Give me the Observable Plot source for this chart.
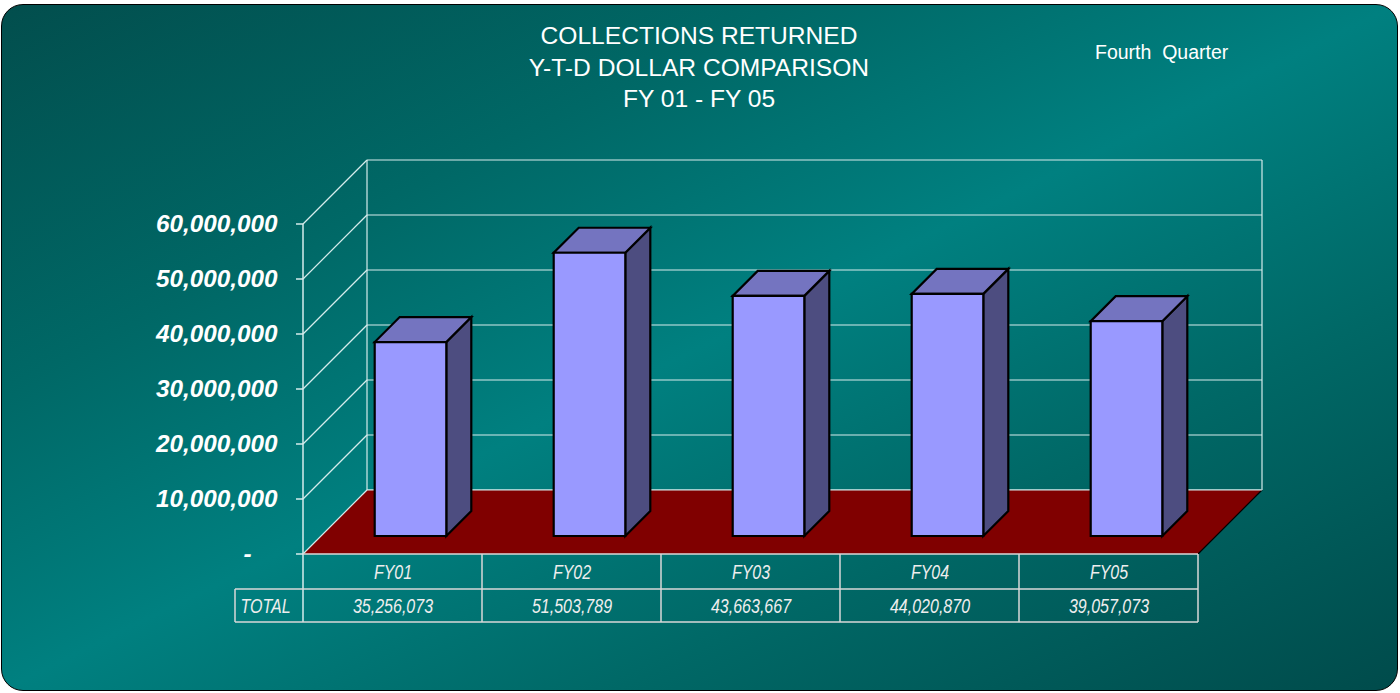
<!DOCTYPE html>
<html><head><meta charset="utf-8">
<script src="https://cdn.jsdelivr.net/npm/d3@7"></script>
<script src="https://cdn.jsdelivr.net/npm/@observablehq/plot@0.6"></script>
<style>
html,body{margin:0;padding:0;background:#fff;}
#wrap{position:relative;width:1400px;height:693px;overflow:hidden;}
#bg{position:absolute;left:1px;top:4px;width:1395px;height:685px;border:1.5px solid #000;border-radius:22px;
  background:linear-gradient(to bottom right,#024e4d 0%,#006866 28%,#008080 50%,#006866 72%,#004b4b 100%);}
.t{position:absolute;color:#fff;font-family:"Liberation Sans",Arial,sans-serif;}
#title{left:0;width:1398px;top:20px;text-align:center;font-size:24.6px;line-height:31.5px;}
#sub{left:1095px;top:41px;font-size:19.5px;white-space:pre;}
#chart{position:absolute;left:0;top:0;}
</style></head>
<body>
<div id="wrap">
  <div id="bg"></div>
  <div id="title" class="t">COLLECTIONS RETURNED<br>Y-T-D DOLLAR COMPARISON<br>FY 01 - FY 05</div>
  <div id="sub" class="t">Fourth  Quarter</div>
  <div id="chart"></div>
</div>
<script>
// ---- data ----
const categories = ["FY01", "FY02", "FY03", "FY04", "FY05"];
const totals = [35256073, 51503789, 43663667, 44020870, 39057073];
const yTicks = [0, 10000000, 20000000, 30000000, 40000000, 50000000, 60000000];
const rowLabel = "TOTAL";

const data = categories.map((cat, i) => ({cat, value: totals[i]}));
const fmt = d3.format(",");

// ---- 3D styling ----
const DEPTH = 64;          // depth of the floor (px)
const BAR_D1 = 18, BAR_D2 = 43; // bar front/back depth (px)
const ROW1 = 35, ROW2 = 68, LABEL_W = 68;
const gridColor = "#d6ecec";
const tableColor = "#d8d8d8";
const tableTextColor = "#eeeeee";

function scene(index, scales, values, dims, context) {
  const x = scales.x, y = scales.y, bw = x.bandwidth();
  const x0 = x(categories[0]), x1 = x(categories[categories.length - 1]) + bw;
  const y0 = y(0), yTop = y(d3.max(yTicks));
  const P = (px, py, d) => [px + d, py - d];
  const g = d3.create("svg:g");
  const line = (a, b, stroke, sw) => g.append("line")
    .attr("x1", a[0]).attr("y1", a[1]).attr("x2", b[0]).attr("y2", b[1])
    .attr("stroke", stroke).attr("stroke-width", sw);
  const poly = (pts, fill, stroke, sw) => g.append("polygon")
    .attr("points", pts.map(p => p.join(",")).join(" "))
    .attr("fill", fill).attr("stroke", stroke).attr("stroke-width", sw)
    .attr("stroke-linejoin", "miter");

  // back wall grid + edges
  for (const t of yTicks) line(P(x0, y(t), DEPTH), P(x1, y(t), DEPTH), gridColor, 1.2);
  line(P(x0, y0, DEPTH), P(x0, yTop, DEPTH), gridColor, 1.2);
  line(P(x1, y0, DEPTH), P(x1, yTop, DEPTH), gridColor, 1.2);
  // floor
  poly([P(x0, y0, 0), P(x1, y0, 0), P(x1, y0, DEPTH), P(x0, y0, DEPTH)], "#800000", "none", 0);
  line(P(x1, y0, 0), P(x1, y0, DEPTH), "#000", 1.2);
  line(P(x0, y0, DEPTH), P(x1, y0, DEPTH), gridColor, 1.2);
  // left wall diagonals
  for (const t of yTicks) line(P(x0, y(t), 0), P(x0, y(t), DEPTH), gridColor, 1.2);
  // front axis + ticks
  line(P(x0, yTop, 0), P(x0, y0 + ROW2, 0), gridColor, 1.5);
  for (const t of yTicks) line(P(x0 - 7, y(t), 0), P(x0, y(t), 0), gridColor, 1.5);

  // bars
  for (const d of data) {
    const l = x(d.cat) + bw * 0.3, r = x(d.cat) + bw * 0.7, b = y(0), t = y(d.value);
    poly([P(r, b, BAR_D1), P(r, b, BAR_D2), P(r, t, BAR_D2), P(r, t, BAR_D1)], "#4d4d80", "#000", 2.2);
    poly([P(l, t, BAR_D1), P(r, t, BAR_D1), P(r, t, BAR_D2), P(l, t, BAR_D2)], "#7474c0", "#000", 2.2);
    poly([P(l, b, BAR_D1), P(r, b, BAR_D1), P(r, t, BAR_D1), P(l, t, BAR_D1)], "#9999ff", "#000", 2.2);
  }

  // data table grid
  line([x0, y0], [x1, y0], tableColor, 1.5);
  line([x0 - LABEL_W, y0 + ROW1], [x1, y0 + ROW1], tableColor, 1.5);
  line([x0 - LABEL_W, y0 + ROW2], [x1, y0 + ROW2], tableColor, 1.5);
  line([x0 - LABEL_W, y0 + ROW1], [x0 - LABEL_W, y0 + ROW2], tableColor, 1.5);
  for (const c of categories.slice(1)) line([x(c), y0], [x(c), y0 + ROW2], tableColor, 1.5);
  line([x1, y0], [x1, y0 + ROW2], tableColor, 1.5);
  return g.node();
}

const axisFont = {fontSize: 24.3, fontWeight: "bold", fontStyle: "italic", fontFamily: "Liberation Sans, Arial, sans-serif", fill: "white"};
const tableFont = {fontSize: 20, fontStyle: "italic", fontFamily: "Liberation Sans, Arial, sans-serif", fill: tableTextColor, lineAnchor: "middle"};

const chart = Plot.plot({
  width: 1400, height: 693,
  marginLeft: 302, marginRight: 202, marginTop: 224, marginBottom: 139,
  x: {type: "band", domain: categories, padding: 0, axis: null},
  y: {domain: [0, d3.max(yTicks)], axis: null},
  style: {background: "transparent", overflow: "visible"},
  marks: [
    scene,
    Plot.text(yTicks.filter(v => v > 0), {y: d => d, frameAnchor: "left", dx: -25, textAnchor: "end", text: d => fmt(d), ...axisFont}),
    Plot.text(yTicks.filter(v => v === 0), {y: d => d, frameAnchor: "left", dx: -55, textAnchor: "middle", text: d => "-", ...axisFont}),
    Plot.text(data, {x: "cat", text: "cat", frameAnchor: "bottom", dy: 18.5, ...tableFont}),
    Plot.text(data, {x: "cat", text: d => fmt(d.value), frameAnchor: "bottom", dy: 52, ...tableFont}),
    Plot.text([rowLabel], {text: d => d, frameAnchor: "bottom-left", dx: -62, dy: 52, textAnchor: "start", ...tableFont})
  ]
});
// condense the data-table lettering (narrow italic face)
chart.querySelectorAll(`g[fill="${tableTextColor}"] text`).forEach(t => {
  const tr = t.getAttribute("transform") || "";
  t.setAttribute("transform", tr + " scale(0.8,1)");
});
document.getElementById("chart").appendChild(chart);
</script>
</body></html>
